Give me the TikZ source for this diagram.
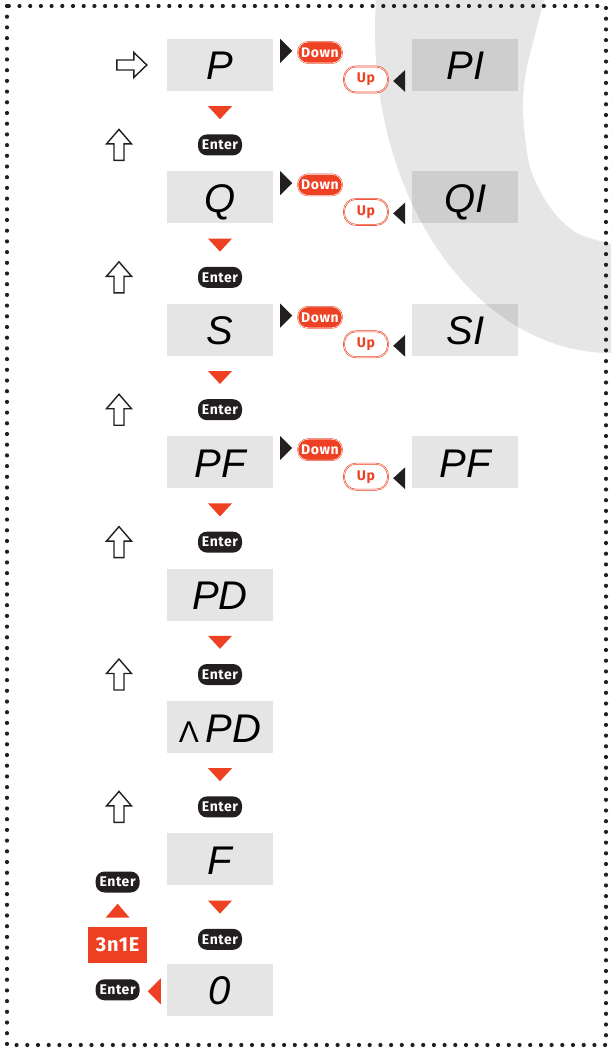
\documentclass[tikz,border=0pt]{standalone}
\usepackage{fontspec}
\setsansfont{Fira Sans}[LetterSpace=4]
\newfontfamily\lcdfont{Liberation Sans}
\usetikzlibrary{positioning,calc}
\definecolor{btnred}{HTML}{EE4123}
\definecolor{ring}{HTML}{E6E6E6}
\definecolor{ink}{HTML}{231F20}

\begin{document}
\begin{tikzpicture}[x=1pt,y=-1pt,
  lcd/.style={fill=black,fill opacity=0.1,text opacity=1,minimum width=106pt,
    minimum height=52pt,inner sep=0pt,text height=30pt,text depth=0pt,
    font=\lcdfont\itshape\fontsize{40}{40}\selectfont},
  enter/.style={fill=ink,text=white,rounded corners=9pt,minimum width=44pt,
    minimum height=21pt,inner sep=0pt,font=\sffamily\bfseries\fontsize{14}{14}\selectfont},
  dnbtn/.style={fill=btnred,draw=btnred,double=white,double distance=0.5pt,
    line width=0.5pt,text=white,rounded corners=10pt,minimum width=44pt,
    minimum height=21pt,inner sep=0pt,font=\sffamily\bfseries\fontsize{14}{14}\selectfont},
  upbtn/.style={fill=white,draw=btnred,double=white,double distance=0.5pt,
    line width=0.6pt,text=btnred,rounded corners=12pt,minimum width=44pt,
    minimum height=26pt,inner sep=0pt,font=\sffamily\bfseries\fontsize{14}{14}\selectfont},
  badge/.style={fill=btnred,text=white,minimum width=59pt,minimum height=36pt,
    inner sep=0pt,font=\sffamily\bfseries\fontsize{20}{20}\selectfont},
  hollow/.style={draw=ink,fill=white,line width=1.4pt,line join=miter}]

  \useasboundingbox (0,0) rectangle (611,1049);

  % grey ring behind the right column
  \begin{scope}
    \clip (0,0) rectangle (611,1049);
    \fill[ring] (611,30) ellipse [x radius=236, y radius=323];
    \fill[white] plot[smooth] coordinates {(545,-2) (527,67) (523,110) (530,167)
      (550,207) (577,233) (620,246)} -- (620,-2) -- cycle;
  \end{scope}

  % main column
  \node[lcd]                    (p)   at (220,65) {P};
  \node[lcd, below=80pt of p]   (q)   {Q};
  \node[lcd, below=80pt of q]   (s)   {S};
  \node[lcd, below=80pt of s]   (pf)  {PF};
  \node[lcd, below=80pt of pf]  (pd)  {PD};
  \node[lcd, below=80pt of pd]  (mpd) {{\upshape\fontsize{30}{30}\selectfont Λ}\,PD};
  \node[lcd, below=80pt of mpd] (f)   {F};
  \node[lcd, below=78pt of f]   (zero) {0};

  % second column
  \node[lcd, right=139pt of p]  (p1)  {PI};
  \node[lcd, right=139pt of q]  (q1)  {QI};
  \node[lcd, right=139pt of s]  (s1)  {SI};
  \node[lcd, right=139pt of pf] (pf1) {PF};

  \node[enter, below=43pt of p]   (e1) {Enter};
  \node[enter, below=43pt of q]   (e2) {Enter};
  \node[enter, below=43pt of s]   (e3) {Enter};
  \node[enter, below=43pt of pf]  (e4) {Enter};
  \node[enter, below=43pt of pd]  (e5) {Enter};
  \node[enter, below=43pt of mpd] (e6) {Enter};
  \node[enter, below=43pt of f]   (e7) {Enter};

  \foreach \r in {p,q,s,pf}{
    \node[dnbtn] (\r-dn) at ($(\r)+(100,-12.5)$) {Down};
    \node[upbtn] (\r-up) at ($(\r)+(146,14.5)$) {Up};
    \fill[ink] ($(\r.north east)+(7,0)$) -- ++(12,12) -- ++(-12,12) -- cycle;
    \fill[ink] ($(\r1.west)+(-7,5)$) -- ++(-12,11) -- ++(12,11) -- cycle;
  }

  \foreach \r in {p,q,s,pf,pd,mpd,f}
    \fill[btnred] ($(\r.south)+(-12,15)$) -- ++(24,0) -- ++(-12,13) -- cycle;

  \foreach \i in {1,...,6}
    \draw[hollow] ($(e\i)+(-101,-15.5)$) -- ++(12.5,14.5) -- ++(-7.5,0) -- ++(0,16.5)
      -- ++(-10,0) -- ++(0,-16.5) -- ++(-7.5,0) -- cycle;

  \draw[hollow] ($(p.west)+(-50,-5)$) -- ++(17,0) -- ++(0,-7.5) -- ++(13,12.5)
    -- ++(-13,12.5) -- ++(0,-7.5) -- ++(-17,0) -- cycle;

  % way back
  \node[enter, left=27pt of zero]  (back)  {Enter};
  \node[badge, above=16pt of back] (code)  {3n1E};
  \node[enter, above=34pt of code] (again) {Enter};
  \fill[btnred] ($(code.north)+(-12,-9)$) -- ++(24,0) -- ++(-12,-14) -- cycle;
  \fill[btnred] ($(back.east)+(8,1.5)$) -- ++(13,-13) -- ++(0,26) -- cycle;

  \draw[ink, line width=4.2pt, line cap=round, dash pattern=on 0pt off 10.7pt]
    (7,6) rectangle (606,1045);
\end{tikzpicture}
\end{document}
